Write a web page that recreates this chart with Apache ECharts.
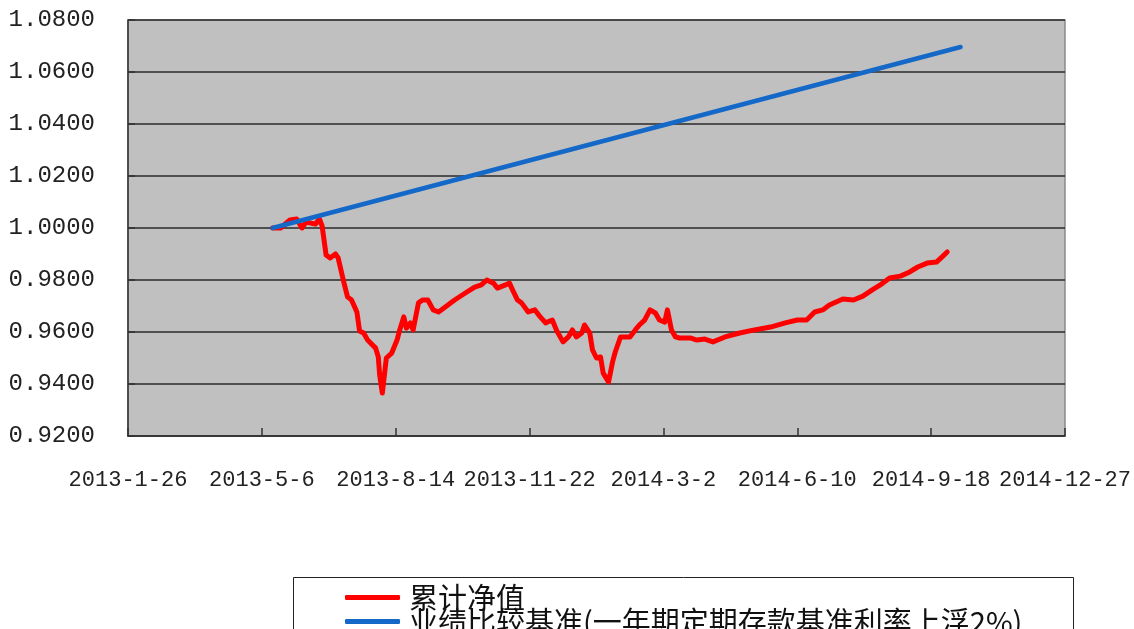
<!DOCTYPE html>
<html lang="zh">
<head>
<meta charset="UTF-8">
<title>累计净值与业绩比较基准</title>
<script src="https://cdn.jsdelivr.net/npm/echarts@6/dist/echarts.min.js"></script>
<style>
  html, body { margin: 0; padding: 0; background: #fff; }
  #main { width: 1134px; height: 629px; }
</style>
</head>
<body>
<div id="main"></div>
<script>
// 累计净值 (date, value)
var navDates = [
  '2013-05-14','2013-05-20','2013-05-27','2013-06-01','2013-06-05','2013-06-08','2013-06-15','2013-06-18',
  '2013-06-20','2013-06-23','2013-06-26','2013-06-30','2013-07-02','2013-07-06','2013-07-09','2013-07-12',
  '2013-07-16','2013-07-18','2013-07-21','2013-07-24','2013-07-30','2013-08-01','2013-08-02','2013-08-04',
  '2013-08-07','2013-08-11','2013-08-15','2013-08-17','2013-08-20','2013-08-22','2013-08-25','2013-08-27',
  '2013-08-31','2013-09-03','2013-09-07','2013-09-11','2013-09-15','2013-09-20','2013-09-27','2013-10-05',
  '2013-10-12','2013-10-17','2013-10-21','2013-10-26','2013-10-29','2013-11-04','2013-11-07','2013-11-10',
  '2013-11-13','2013-11-16','2013-11-21','2013-11-26','2013-11-30','2013-12-04','2013-12-09','2013-12-12',
  '2013-12-17','2013-12-21','2013-12-24','2013-12-27','2013-12-31','2014-01-02','2014-01-06','2014-01-08',
  '2014-01-11','2014-01-14','2014-01-16','2014-01-20','2014-01-23','2014-01-25','2014-01-29','2014-02-01',
  '2014-02-05','2014-02-09','2014-02-12','2014-02-16','2014-02-20','2014-02-24','2014-02-27','2014-03-03',
  '2014-03-05','2014-03-08','2014-03-11','2014-03-14','2014-03-22','2014-03-27','2014-04-02','2014-04-08',
  '2014-04-17','2014-04-28','2014-05-09','2014-05-21','2014-06-01','2014-06-10','2014-06-17','2014-06-23',
  '2014-06-29','2014-07-04','2014-07-14','2014-07-22','2014-07-29','2014-08-05','2014-08-11','2014-08-18',
  '2014-08-26','2014-09-02','2014-09-08','2014-09-15','2014-09-22','2014-09-26','2014-09-30'
];
var navValues = [
  1.0000,1.0000,1.0031,1.0035,1.0000,1.0023,1.0015,1.0035,
  1.0008,0.9896,0.9885,0.9900,0.9885,0.9796,0.9735,0.9723,
  0.9677,0.9604,0.9596,0.9569,0.9538,0.9504,0.9435,0.9365,
  0.9500,0.9519,0.9569,0.9608,0.9658,0.9615,0.9635,0.9608,
  0.9712,0.9723,0.9723,0.9685,0.9677,0.9696,0.9723,0.9750,
  0.9773,0.9781,0.9800,0.9788,0.9769,0.9781,0.9788,0.9754,
  0.9723,0.9712,0.9677,0.9685,0.9658,0.9635,0.9646,0.9608,
  0.9562,0.9581,0.9608,0.9581,0.9596,0.9627,0.9596,0.9531,
  0.9500,0.9504,0.9442,0.9408,0.9485,0.9523,0.9581,0.9581,
  0.9581,0.9608,0.9627,0.9646,0.9685,0.9673,0.9646,0.9638,
  0.9685,0.9608,0.9581,0.9577,0.9577,0.9569,0.9573,0.9562,
  0.9581,0.9596,0.9608,0.9619,0.9635,0.9646,0.9646,0.9677,
  0.9685,0.9704,0.9727,0.9723,0.9738,0.9762,0.9781,0.9808,
  0.9815,0.9831,0.9850,0.9865,0.9869,0.9888,0.9908
];
// 业绩比较基准 (straight line)
var benchDates = ['2013-05-14', '2014-10-10'];
var benchValues = [1.0000, 1.0696];

var seriesNames = ['累计净值', '业绩比较基准(一年期定期存款基准利率上浮2%)'];
var xStart = '2013-01-26';
var xEnd = '2014-12-27';
var xStepDays = 100;
var yMin = 0.92, yMax = 1.08, yStep = 0.02;

var DAY = 86400000;
function toTime(s) {
  var p = s.split('-');
  return Date.UTC(+p[0], +p[1] - 1, +p[2]);
}
function fmtDate(t) {
  var d = new Date(t);
  return d.getUTCFullYear() + '-' + (d.getUTCMonth() + 1) + '-' + d.getUTCDate();
}
function pairs(dates, vals) {
  return dates.map(function (d, i) { return [toTime(d), vals[i]]; });
}

// one legend per row, the box itself is drawn as a plain rect
function legendRow(name, top) {
  return {
    left: 345, top: top,
    padding: 0,
    itemGap: 0,
    itemWidth: 55,
    itemHeight: 5,
    icon: 'roundRect',
    textStyle: {
      fontSize: 29, lineHeight: 24, color: '#111',
      fontFamily: 'Noto Sans CJK SC',
      padding: [0, 0, 0, 4]
    },
    data: [name]
  };
}

var chart = echarts.init(document.getElementById('main'));
chart.setOption({
  animation: false,
  backgroundColor: '#ffffff',
  grid: {
    left: 128, right: 69, top: 20, bottom: 193,
    show: true,
    backgroundColor: '#c0c0c0',
    borderColor: '#8a8a8a',
    borderWidth: 1.5
  },
  xAxis: {
    type: 'value',
    min: toTime(xStart),
    max: toTime(xEnd),
    interval: xStepDays * DAY,
    axisLine: { show: true, lineStyle: { color: '#333', width: 1.5 } },
    axisTick: { show: true, inside: true, length: 8, lineStyle: { color: '#333', width: 1.5 } },
    splitLine: { show: false },
    axisLabel: {
      margin: 33,
      color: '#222',
      fontSize: 22,
      fontFamily: 'Liberation Mono',
      hideOverlap: false,
      formatter: function (v) { return fmtDate(v); }
    }
  },
  yAxis: {
    type: 'value',
    min: yMin,
    max: yMax,
    interval: yStep,
    axisLine: { show: true, lineStyle: { color: '#333', width: 1.5 } },
    axisTick: { show: true, inside: true, length: 7, lineStyle: { color: '#333', width: 1.5 } },
    splitLine: { show: true, lineStyle: { color: '#2a2a2a', width: 1.5 } },
    axisLabel: {
      margin: 33,
      color: '#222',
      fontSize: 24,
      fontFamily: 'Liberation Mono',
      formatter: function (v) { return v.toFixed(4); }
    }
  },
  graphic: [{
    type: 'rect',
    left: 293, top: 577,
    shape: { width: 780, height: 70 },
    style: { fill: '#fff', stroke: '#222', lineWidth: 1 },
    z: -1
  }],
  legend: [legendRow(seriesNames[0], 583), legendRow(seriesNames[1], 607)],
  series: [
    {
      name: seriesNames[0],
      type: 'line',
      showSymbol: false,
      symbol: 'none',
      color: '#ff0000',
      lineStyle: { width: 5, color: '#ff0000', join: 'round', cap: 'round' },
      data: pairs(navDates, navValues)
    },
    {
      name: seriesNames[1],
      type: 'line',
      showSymbol: false,
      symbol: 'none',
      color: '#1468c8',
      lineStyle: { width: 4.5, color: '#1468c8', cap: 'round' },
      data: pairs(benchDates, benchValues)
    }
  ]
});
</script>
</body>
</html>
